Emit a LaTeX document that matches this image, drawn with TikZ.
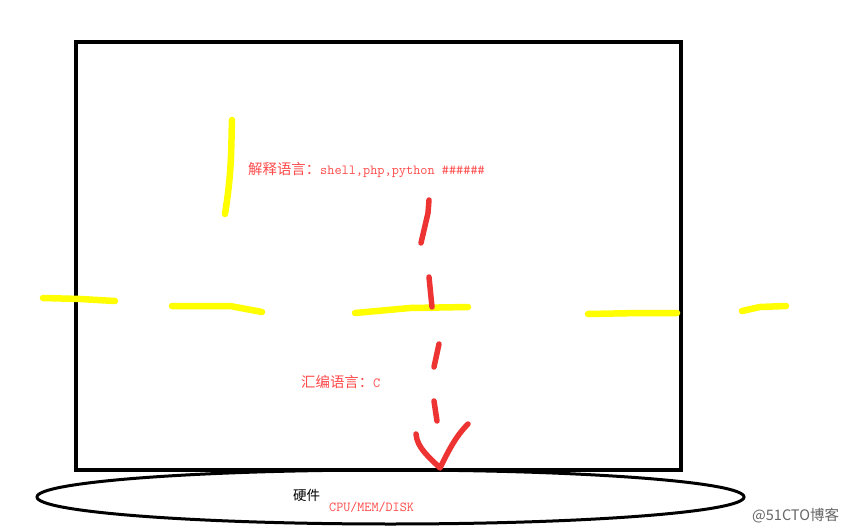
\documentclass[tikz,border=0pt]{standalone}
\usepackage{fontspec}
\newfontfamily\cjk{Noto Sans CJK SC}
\newfontfamily\mono{Latin Modern Mono}
\definecolor{txtred}{HTML}{FF4A4A}
\definecolor{penred}{HTML}{EE3333}
\definecolor{penyellow}{HTML}{FFFF00}
\tikzset{
  frame/.style={draw=black, line width=3.5pt},
  disk/.style={draw=black, line width=3pt},
  ypen/.style={draw=penyellow, line width=6.5pt, line cap=round, line join=round},
  rpen/.style={draw=penred, line width=5.5pt, line cap=round, line join=round},
  lbl/.style={anchor=west, inner sep=0pt, text=txtred},
}
\begin{document}
\begin{tikzpicture}[x=1pt, y=-1pt]
\useasboundingbox[fill=white] (0,0) rectangle (849,532);
% hardware disk
\draw[disk] (390.5,497) ellipse [x radius=353.5pt, y radius=27pt];
% frame
\draw[frame] (76,42) rectangle (681,470);
% yellow strokes
\draw[ypen] (232,120) .. controls (231,150) and (232,170) .. (225,214);
\draw[ypen] (43,298) -- (80,299) -- (115,301);
\draw[ypen] (172,306) -- (230,306) -- (262,312);
\draw[ypen] (355,313) -- (410,308) -- (468,307);
\draw[ypen] (588,314) -- (640,313) -- (677,313);
\draw[ypen] (742,311) -- (760,307) -- (786,306);
% red dashed arrow
\draw[rpen] (429,200) -- (428,213) -- (421,243);
\draw[rpen] (429,277) -- (432,307);
\draw[rpen] (439,344) -- (434,367);
\draw[rpen] (434,401) -- (437,421);
\draw[rpen] (416,434) .. controls (417,448) and (430,458) .. (440,468)
               .. controls (448,452) and (455,437) .. (468,424);
% texts
\node[lbl] (interp) at (248,170) {\cjk\fontsize{14.4pt}{15pt}\selectfont 解释语言：\mono\fontsize{13.9pt}{15pt}\selectfont shell,php,python \#\#\#\#\#\#};
\node[lbl] (asm) at (301,382) {\cjk\fontsize{14.4pt}{15pt}\selectfont 汇编语言：\mono\fontsize{13.9pt}{15pt}\selectfont C};
\node[anchor=west, inner sep=0pt] (hw) at (293,495) {\cjk\fontsize{13.5pt}{15pt}\selectfont 硬件};
\node[lbl] (res) at (329,507) {\mono\fontsize{13.7pt}{15pt}\selectfont CPU/MEM/DISK};
\node[anchor=west, inner sep=0pt, text=black!60] (wm) at (752,516) {\cjk\fontsize{14.5pt}{15pt}\selectfont @51CTO博客};
\end{tikzpicture}
\end{document}
